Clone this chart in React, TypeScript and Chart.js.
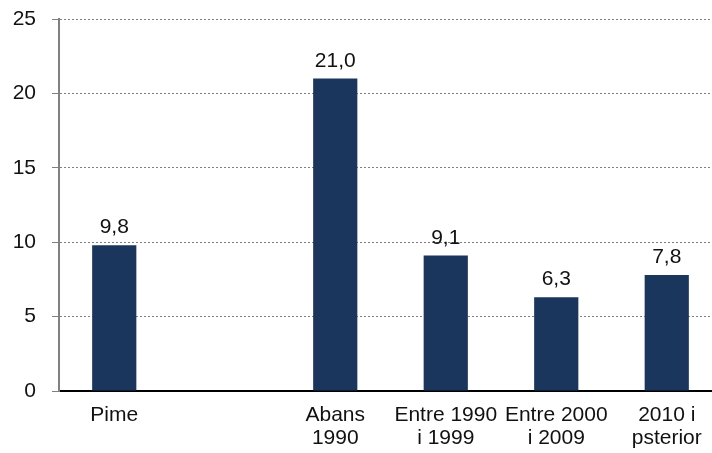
import React, { useEffect, useRef } from "react";
import { Chart, registerables } from "chart.js";

Chart.register(...registerables);

const categories: (string | string[])[] = [
  "Pime",
  "",
  ["Abans", "1990"],
  ["Entre 1990", "i 1999"],
  ["Entre 2000", "i 2009"],
  ["2010 i", "psterior"],
];
const values: (number | null)[] = [9.8, null, 21.0, 9.1, 6.3, 7.8];
const yTicks = { min: 0, max: 25, step: 5 };

const FONT = "'Liberation Sans', Arial, sans-serif";
const BAR_COLOR = "#1b365d";

const valueLabels = {
  id: "valueLabels",
  afterDatasetsDraw(chart: any) {
    const ctx = chart.ctx;
    const meta = chart.getDatasetMeta(0);
    ctx.save();
    ctx.font = `21px ${FONT}`;
    ctx.fillStyle = "#111111";
    ctx.textAlign = "center";
    ctx.textBaseline = "alphabetic";
    meta.data.forEach((el: any, i: number) => {
      const v = values[i];
      if (v === null || v === undefined) return;
      ctx.fillText(v.toFixed(1).replace(".", ","), el.x, el.y - 12);
    });
    ctx.restore();
  },
};

export default function App() {
  const ref = useRef<HTMLCanvasElement | null>(null);
  useEffect(() => {
    if (!ref.current) return;
    const chart = new Chart(ref.current, {
      type: "bar",
      data: {
        labels: categories as any,
        datasets: [
          {
            data: values as any,
            backgroundColor: BAR_COLOR,
            borderWidth: 0,
            categoryPercentage: 1,
            barPercentage: 0.4,
          },
        ],
      },
      plugins: [valueLabels],
      options: {
        responsive: false,
        animation: false,
        layout: { padding: { top: 19, right: 0, bottom: 0, left: 0 } },
        plugins: { legend: { display: false }, tooltip: { enabled: false } },
        scales: {
          x: {
            offset: true,
            grid: { display: false },
            border: { display: true, color: "#000000", width: 2 },
            ticks: {
              color: "#111111",
              font: { family: FONT, size: 21, lineHeight: 1.08 },
              padding: 5,
              maxRotation: 0,
              autoSkip: false,
            },
            afterFit(scale: any) {
              scale.height = 62;
              scale.paddingLeft = 0;
              scale.paddingRight = 0;
            },
          },
          y: {
            min: yTicks.min,
            max: yTicks.max,
            grid: {
              color: (c: any) => (c.tick && c.tick.value === 0 ? "rgba(0,0,0,0)" : "#808080"),
              lineWidth: 1,
              tickLength: 7,
              tickColor: "#808080",
              tickWidth: 1,
              tickBorderDash: [],
            },
            border: { display: true, color: "#808080", width: 2, dash: [2, 2] },
            ticks: {
              stepSize: yTicks.step,
              color: "#111111",
              font: { family: FONT, size: 21 },
              padding: 16,
            },
            afterFit(scale: any) {
              scale.width = 59;
              scale.paddingTop = 0;
              scale.paddingBottom = 0;
            },
          },
        },
      },
    });
    return () => chart.destroy();
  }, []);
  return (
    <div
      style={{
        position: "fixed",
        left: 0,
        top: 0,
        width: 712,
        height: 453,
        overflow: "hidden",
        background: "#ffffff",
      }}
    >
      <canvas ref={ref} width={722} height={453} style={{ display: "block" }} />
    </div>
  );
}
